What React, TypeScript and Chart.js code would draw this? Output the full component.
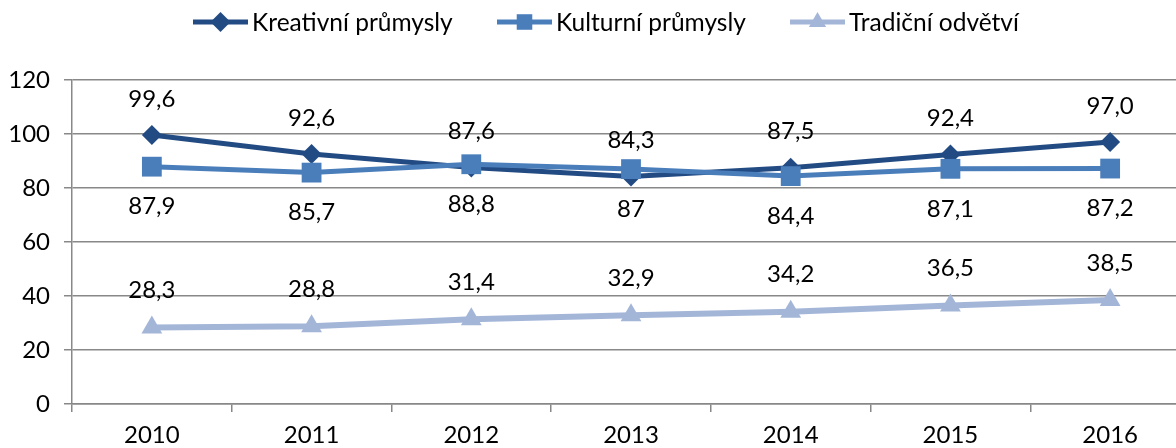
import React, { useEffect, useRef } from "react";
import { Chart, registerables } from "chart.js";
import { drawPoint } from "chart.js/helpers";

Chart.register(...registerables);

const years = ["2010", "2011", "2012", "2013", "2014", "2015", "2016"];
const kreativni = [99.6, 92.6, 87.6, 84.3, 87.5, 92.4, 97.0];
const kulturni = [87.9, 85.7, 88.8, 87, 84.4, 87.1, 87.2];
const tradicni = [28.3, 28.8, 31.4, 32.9, 34.2, 36.5, 38.5];
const seriesNames = ["Kreativní průmysly", "Kulturní průmysly", "Tradiční odvětví"];
const yTicks = [0, 20, 40, 60, 80, 100, 120];

const FONT = "Lato";
const colors = ["#234B83", "#4A7EBB", "#A4B6D8"];
const styles = ["rectRot", "rect", "triangle"];
const radii = [10, 14, 12];
const legendRadii = [10, 11, 10];
const legendStarts = [193, 497, 790];
const labelOffsets = [-36, 40, -37];
const fmt = [
  (v: number) => v.toFixed(1).replace(".", ","),
  (v: number) => String(v).replace(".", ","),
  (v: number) => String(v).replace(".", ","),
];

const CANVAS_W = 1204;

const labelsPlugin = {
  id: "valueLabels",
  afterDatasetsDraw(chart: any) {
    const ctx = chart.ctx;
    ctx.save();
    ctx.font = `24px ${FONT}`;
    ctx.fillStyle = "#000";
    ctx.textAlign = "center";
    ctx.textBaseline = "middle";
    chart.data.datasets.forEach((ds: any, i: number) => {
      const meta = chart.getDatasetMeta(i);
      meta.data.forEach((pt: any, j: number) => {
        ctx.fillText(fmt[i](ds.data[j]), pt.x, pt.y + labelOffsets[i]);
      });
    });
    ctx.restore();
  },
};

const legendPlugin = {
  id: "customLegend",
  afterDraw(chart: any) {
    const ctx = chart.ctx;
    ctx.save();
    ctx.font = `24.5px ${FONT}`;
    ctx.textBaseline = "middle";
    const lineLen = 55;
    const gapText = 4;
    const y = 22;
    seriesNames.forEach((name, i) => {
      const x = legendStarts[i];
      ctx.strokeStyle = colors[i];
      ctx.lineWidth = 5;
      ctx.beginPath();
      ctx.moveTo(x, y);
      ctx.lineTo(x + lineLen, y);
      ctx.stroke();
      ctx.fillStyle = colors[i];
      drawPoint(ctx, { pointStyle: styles[i], radius: legendRadii[i], borderWidth: 0, rotation: 0 } as any, x + lineLen / 2, y);
      ctx.fillStyle = "#000";
      ctx.textAlign = "left";
      ctx.fillText(name, x + lineLen + gapText, y + 1);
    });
    ctx.restore();
  },
};

export default function App() {
  const ref = useRef<HTMLCanvasElement>(null);
  useEffect(() => {
    if (!ref.current) return;
    const seriesData = [kreativni, kulturni, tradicni];
    const chart = new Chart(ref.current, {
      type: "line",
      data: {
        labels: years,
        datasets: seriesData.map((d, i) => ({
          label: seriesNames[i],
          data: d,
          borderColor: colors[i],
          backgroundColor: colors[i],
          borderWidth: i === 2 ? 6 : 5,
          pointStyle: styles[i] as any,
          pointRadius: radii[i],
          pointHoverRadius: radii[i],
          pointBorderWidth: 0,
          pointBackgroundColor: colors[i],
          tension: 0,
          order: i === 0 ? 2 : i === 1 ? 1 : 3,
        })),
      },
      options: {
        responsive: false,
        animation: false,
        events: [],
        layout: { padding: { top: 80, left: 0, right: 0, bottom: 0 } },
        plugins: { legend: { display: false }, tooltip: { enabled: false } },
        scales: {
          x: {
            type: "category",
            offset: true,
            grid: {
              offset: true,
              drawOnChartArea: false,
              drawTicks: true,
              tickLength: 8,
              color: "#888",
              lineWidth: 1.5,
            },
            border: { display: true, color: "#888", width: 1.5 },
            ticks: { color: "#000", font: { family: FONT, size: 24 }, padding: 9, maxRotation: 0 },
            afterFit: (s: any) => {
              s.height = 44;
            },
          },
          y: {
            min: 0,
            max: 120,
            afterBuildTicks: (s: any) => {
              s.ticks = yTicks.map((v) => ({ value: v }));
            },
            grid: { color: "#888", lineWidth: 1.5, tickLength: 8, drawTicks: true },
            border: { display: true, color: "#888", width: 1.5 },
            ticks: { color: "#000", font: { family: FONT, size: 24 }, padding: 14 },
            afterFit: (s: any) => {
              s.width = 72;
            },
          },
        },
      },
      plugins: [labelsPlugin, legendPlugin],
    });
    return () => chart.destroy();
  }, []);
  return (
    <div style={{ position: "fixed", left: 0, top: 0, width: 1176, height: 448, overflow: "hidden", background: "#fff" }}>
      <canvas ref={ref} width={CANVAS_W} height={448} style={{ display: "block", width: CANVAS_W, height: 448 }} />
    </div>
  );
}
